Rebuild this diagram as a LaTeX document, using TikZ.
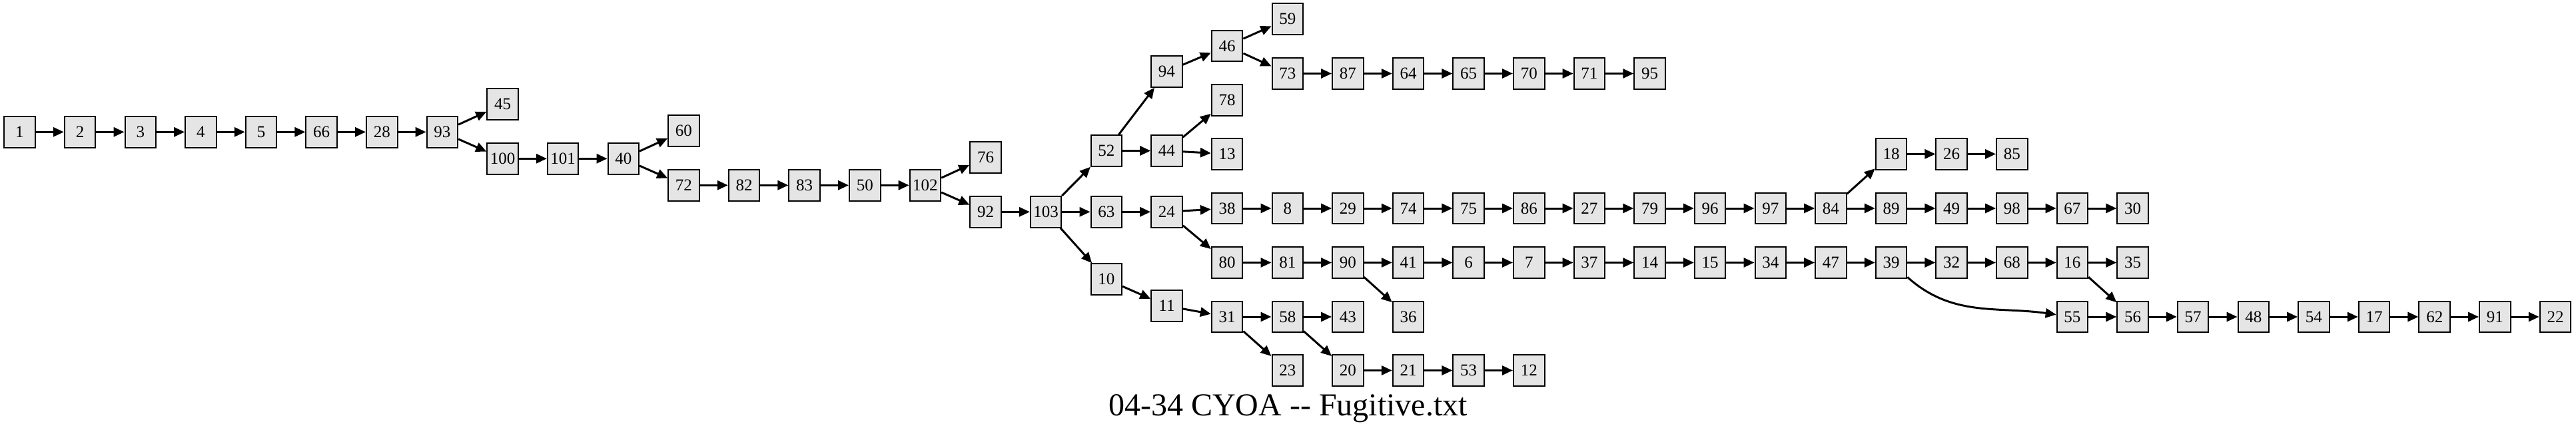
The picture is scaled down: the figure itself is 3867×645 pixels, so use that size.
\documentclass[tikz,border=0pt]{standalone}
\usepackage{fontspec}
\setmainfont{Liberation Serif}
\usetikzlibrary{arrows.meta}
\definecolor{gfill}{HTML}{E5E5E5}
\newcommand\gvnode[3]{\node[nb] (n#1) at ({29.5+90.63*#2},#3) {#1};}
\begin{document}
\begin{tikzpicture}[x=1pt,y=-1pt,
  nb/.style={draw=black,fill=gfill,line width=2pt,rectangle,minimum width=46.5pt,minimum height=46.5pt,inner sep=0pt,font=\fontsize{25}{25}\selectfont},
  edge/.style={line width=3pt,-{Triangle[length=16pt,width=14pt]}}]
\useasboundingbox (0,0) rectangle (3867,645);
\gvnode{1}{0}{198.3}
\gvnode{2}{1}{198.3}
\gvnode{3}{2}{198.3}
\gvnode{4}{3}{198.3}
\gvnode{5}{4}{198.3}
\gvnode{66}{5}{198.3}
\gvnode{28}{6}{198.3}
\gvnode{93}{7}{198.3}
\gvnode{45}{8}{156.7}
\gvnode{100}{8}{238.3}
\gvnode{101}{9}{238.3}
\gvnode{40}{10}{238.3}
\gvnode{60}{11}{196.7}
\gvnode{72}{11}{278.3}
\gvnode{82}{12}{278.3}
\gvnode{83}{13}{278.3}
\gvnode{50}{14}{278.3}
\gvnode{102}{15}{278.3}
\gvnode{76}{16}{236.7}
\gvnode{92}{16}{318.3}
\gvnode{103}{17}{318.3}
\gvnode{52}{18}{226.5}
\gvnode{63}{18}{318.3}
\gvnode{10}{18}{419.5}
\gvnode{94}{19}{107.5}
\gvnode{44}{19}{226.5}
\gvnode{24}{19}{318.3}
\gvnode{11}{19}{459.5}
\gvnode{46}{20}{69}
\gvnode{78}{20}{150.5}
\gvnode{13}{20}{231.4}
\gvnode{38}{20}{313}
\gvnode{80}{20}{394.5}
\gvnode{31}{20}{476}
\gvnode{59}{21}{28.5}
\gvnode{73}{21}{110.5}
\gvnode{8}{21}{313}
\gvnode{81}{21}{394.5}
\gvnode{58}{21}{476}
\gvnode{23}{21}{556.5}
\gvnode{87}{22}{110.5}
\gvnode{29}{22}{313}
\gvnode{90}{22}{394.5}
\gvnode{43}{22}{476}
\gvnode{20}{22}{556.5}
\gvnode{64}{23}{110.5}
\gvnode{74}{23}{313}
\gvnode{41}{23}{394.5}
\gvnode{36}{23}{476}
\gvnode{21}{23}{556.5}
\gvnode{65}{24}{110.5}
\gvnode{75}{24}{313}
\gvnode{6}{24}{394.5}
\gvnode{53}{24}{556.5}
\gvnode{70}{25}{110.5}
\gvnode{86}{25}{313}
\gvnode{7}{25}{394.5}
\gvnode{12}{25}{556.5}
\gvnode{71}{26}{110.5}
\gvnode{27}{26}{313}
\gvnode{37}{26}{394.5}
\gvnode{95}{27}{110.5}
\gvnode{79}{27}{313}
\gvnode{14}{27}{394.5}
\gvnode{96}{28}{313}
\gvnode{15}{28}{394.5}
\gvnode{97}{29}{313}
\gvnode{34}{29}{394.5}
\gvnode{84}{30}{313}
\gvnode{47}{30}{394.5}
\gvnode{18}{31}{231.4}
\gvnode{89}{31}{313}
\gvnode{39}{31}{394.5}
\gvnode{26}{32}{231.4}
\gvnode{49}{32}{313}
\gvnode{32}{32}{394.5}
\gvnode{85}{33}{231.4}
\gvnode{98}{33}{313}
\gvnode{68}{33}{394.5}
\gvnode{67}{34}{313}
\gvnode{16}{34}{394.5}
\gvnode{55}{34}{476}
\gvnode{30}{35}{313}
\gvnode{35}{35}{394.5}
\gvnode{56}{35}{476}
\gvnode{57}{36}{476}
\gvnode{48}{37}{476}
\gvnode{54}{38}{476}
\gvnode{17}{39}{476}
\gvnode{62}{40}{476}
\gvnode{91}{41}{476}
\gvnode{22}{42}{476}
\foreach \a/\b in {1/2,2/3,3/4,4/5,5/66,66/28,28/93,93/45,93/100,100/101,101/40,40/60,40/72,
  72/82,82/83,83/50,50/102,102/76,102/92,92/103,103/52,103/63,103/10,52/94,52/44,94/46,46/59,
  46/73,73/87,87/64,64/65,65/70,70/71,71/95,44/78,44/13,63/24,24/38,24/80,38/8,8/29,29/74,
  74/75,75/86,86/27,27/79,79/96,96/97,97/84,84/18,84/89,18/26,26/85,89/49,49/98,98/67,67/30,
  80/81,81/90,90/41,90/36,41/6,6/7,7/37,37/14,14/15,15/34,34/47,47/39,39/32,32/68,68/16,
  16/35,16/56,55/56,56/57,57/48,48/54,54/17,17/62,62/91,91/22,10/11,11/31,31/58,31/23,
  58/43,58/20,20/21,21/53,53/12}
  \draw[edge] (n\a) -- (n\b);
\draw[edge] (n39) to[out=-42,in=172] (n55);
\node[anchor=base,font=\fontsize{48}{48}\selectfont] (title) at (1933.5,624) {04-34 CYOA -{}- Fugitive.txt};
\end{tikzpicture}
\end{document}
